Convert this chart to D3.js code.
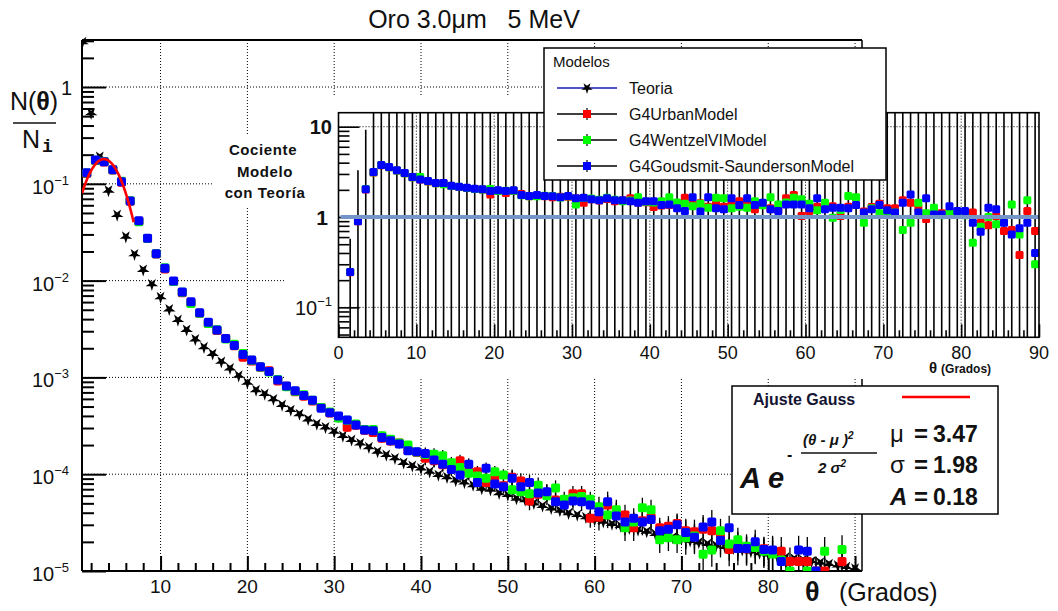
<!DOCTYPE html>
<html><head><meta charset="utf-8">
<script src="https://cdn.jsdelivr.net/npm/d3@7"></script>
<style>
body{margin:0;background:#fff}
svg{display:block;font-family:"Liberation Sans",Arial,Helvetica,sans-serif}
text{white-space:pre}
</style></head><body>
<svg id="c" width="1058" height="611"></svg>
<script>
// ---- angular distribution N(theta)/N_i, gold foil 3.0 um, 5 MeV electrons ----
const thetaTheory = d3.range(1, 91);          // theory evaluated at integer angles
const thetaBins   = d3.range(1.5, 90, 1);      // simulated histogram bin centres

const teoria = [2.9,0.535,0.19,0.085,0.0476,0.0284,0.0187,0.0129,0.00916,0.00673,
 0.00505,0.00392,0.0031,0.00247,0.00205,0.00175,0.00145,0.00124,0.00104,0.00088,
 0.00074,0.000674,0.000594,0.000519,0.00046,0.000418,0.000369,0.00033,0.000305,0.000275,
 0.000248,0.000226,0.000208,0.00019,0.000171,0.000158,0.000146,0.000131,0.000122,0.000115,
 0.000106,0.000098,0.000093,0.000086,0.000082,0.000077,0.000071,0.000069,0.0000635,0.000061,
 0.000056,0.000054,0.00005,0.000047,0.0000444,0.000042,0.0000395,0.0000379,0.0000359,0.0000337,
 0.0000323,0.0000306,0.0000292,0.0000276,0.0000265,0.0000255,0.0000241,0.0000232,0.0000222,0.0000214,
 0.0000205,0.0000197,0.000019,0.0000183,0.0000177,0.0000171,0.0000165,0.0000159,0.0000153,0.0000148,
 0.0000143,0.0000138,0.0000134,0.000013,0.0000126,0.0000122,0.0000118,0.0000114,0.000011,0.0000106];

const urban = [0.128,0.174,0.168,0.139,0.104,0.066,0.041,0.0272,0.0188,0.0132,
 0.0098,0.0075,0.0059,0.0046,0.0036,0.00305,0.00252,0.00212,0.00162,0.00148,
 0.00127,0.00117,0.00092,0.00081,0.00071,0.00064,0.00057,0.00049,0.00043,0.00039,
 0.000306,0.00032,0.000285,0.00027,0.000235,0.00022,0.00021,0.000178,0.000168,0.000146,
 0.000138,0.000125,0.000115,0.000138,0.000105,0.000106,0.000082,0.000089,0.000076,0.000093,
 0.000085,0.000053,0.000062,0.000064,0.000054,0.00005,0.000063,0.000063,0.000035,0.000036,
 0.000048,0.00004,0.000038,0.000028,0.000033,0.000036,0.000028,0.000029,0.000031,0.000026,
 0.0000255,0.000027,0.000026,0.000022,0.0000167,0.000019,0.000017,0.000018,0.000017,0.000016,
 0.000016,0.0000125,0.0000125,0.0000125,0.00001,0.00001,null,0.0000125,null];

const wentzel = [0.129,0.175,0.17,0.14,0.106,0.067,0.0405,0.0273,0.0189,0.0136,
 0.0098,0.0076,0.0058,0.0046,0.0036,0.0031,0.0025,0.0022,0.00177,0.0015,
 0.00128,0.00114,0.00095,0.0008,0.00072,0.00066,0.00058,0.00049,0.00044,0.00038,
 0.00036,0.00033,0.00029,0.00029,0.00025,0.00023,0.00021,0.0002,0.00017,0.00016,
 0.000161,0.000155,0.000131,0.000117,0.000102,0.000096,0.000091,0.000106,0.000098,0.000069,
 0.000066,0.000063,0.000077,0.00006,0.000072,0.000055,0.000057,0.000059,0.000055,0.000046,
 0.000038,0.000043,0.000028,0.000032,0.000045,0.000043,0.000021,0.000022,0.000021,0.000022,
 0.000023,0.0000149,0.0000165,0.000026,0.000019,0.000021,0.000018,0.0000175,0.000016,0.000015,
 0.000013,0.00001,null,0.00001,null,0.000016,null,0.0000167,null];

const goudsmit = [0.13,0.176,0.169,0.14,0.105,0.0664,0.0416,0.0274,0.019,0.0134,
 0.0099,0.00763,0.00605,0.00466,0.00371,0.00309,0.00253,0.00214,0.00172,0.00151,
 0.00129,0.00115,0.00094,0.000815,0.00073,0.00065,0.00058,0.00048,0.000432,0.000399,
 0.000363,0.000322,0.000286,0.000281,0.00024,0.000222,0.000205,0.000175,0.000171,0.000164,
 0.00014,0.000127,0.000112,0.000098,0.000127,0.000082,0.000115,0.000079,0.000074,0.000091,
 0.000074,0.000082,0.000064,0.000066,0.000052,0.000048,0.000053,0.000052,0.000048,0.000041,
 0.000052,0.000037,0.000032,0.000035,0.000032,0.000034,0.000026,0.000027,0.00003,0.000025,
 0.0000223,0.0000285,0.000032,0.0000206,0.000028,0.0000171,0.0000171,0.00002,0.0000167,0.0000165,
 0.0000125,null,0.0000165,0.000016,0.00001,null,null,null,null];

// relative statistical error of the simulated histograms, per 10-degree band
const relErrBand = [0.01,0.03,0.06,0.1,0.15,0.2,0.27,0.33,0.4];

// ratio model / theory (inset)
const ratioUrban = [0.245,0.9,2.02,3.12,3.75,3.55,3.27,3.05,2.75,2.6,
 2.48,2.36,2.36,2.2,2.15,2.1,2.05,2.02,1.78,1.96,
 1.85,1.96,1.8,1.7,1.72,1.7,1.66,1.68,1.68,1.6,
 1.44,1.57,1.52,1.58,1.5,1.52,1.61,1.45,1.46,1.29,
 1.34,1.36,1.32,1.64,1.36,1.42,1.3,1.4,1.3,1.44,
 1.5,1.45,1.22,1.4,1.25,1.2,1.61,1.75,1.03,1.17,
 1.3,1.32,1.32,1.03,1.3,1.64,1.15,1.29,1.4,1.25,
 1.25,1.53,1.44,1.25,0.95,1.15,1.1,1.12,1.12,1.1,
 1.12,0.865,0.81,1.03,0.7,0.72,0.38,1.17,0.7];
const ratioWentzel = [0.247,0.91,2.04,3.13,3.76,3.56,3.28,3.06,2.76,2.77,
 2.49,2.37,2.3,2.21,2.16,2.1,2.05,2.02,2.05,1.94,
 1.96,1.95,1.74,1.7,1.7,1.72,1.71,1.65,1.7,1.38,
 1.62,1.6,1.55,1.64,1.55,1.5,1.52,1.66,1.48,1.45,
 1.5,1.66,1.45,1.4,1.32,1.4,1.27,1.64,1.61,1.25,
 1.3,1.27,1.5,1.35,1.66,1.38,1.45,1.64,1.57,1.4,
 1.19,1.44,0.98,1.2,1.71,1.66,0.865,1.25,1.1,1.15,
 1.12,0.72,0.865,1.44,1.1,1.27,1.05,1.12,1.1,1.05,
 0.52,0.78,1.0,0.83,0.9,1.38,0.64,1.53,0.3];
const ratioGoudsmit = [0.246,0.9,2.03,3.15,3.77,3.58,3.29,3.07,2.77,2.61,
 2.5,2.38,2.38,2.22,2.17,2.11,2.06,2.03,1.94,1.98,
 1.94,1.98,1.75,1.71,1.75,1.71,1.7,1.66,1.71,1.61,
 1.64,1.57,1.53,1.61,1.53,1.53,1.5,1.44,1.5,1.5,
 1.36,1.38,1.25,1.17,1.66,1.15,1.66,1.25,1.22,1.61,
 1.36,1.61,1.36,1.44,1.22,1.17,1.38,1.38,1.38,1.25,
 1.61,1.22,1.27,1.27,1.25,1.36,1.12,1.22,1.36,1.19,
 1.12,1.44,1.78,1.12,1.61,1.07,1.07,1.32,1.17,1.17,
 0.865,0.687,1.27,1.22,0.865,0.64,0.75,0.865,0.4];
// error on the ratio: first bins given, the rest exceed the displayed range
const ratioErrLow = [0.33, 2.4, 7.2];
const ratioErrRest = 60;

// Gaussian fit of the forward peak
const fitMu = 3.47, fitSigma = 1.98, fitA = 0.18;
const fitRange = [0.95, 6.9];

const seriesNames = ["Teoria","G4UrbanModel","G4WentzelVIModel","G4Goudsmit-SaundersonModel"];
const seriesColors = ["#000000","#ff0000","#00ff00","#0000ff"];

const svg = d3.select("#c");

// ---------- main frame ----------
const M = {l:82, r:862, t:40, b:571};
const x = d3.scaleLinear().domain([0.95, 90.8]).range([M.l, M.r]);
const y = d3.scaleLog().domain([1e-5, 3.06]).range([M.b, M.t]);

const decades = [1e-5,1e-4,1e-3,1e-2,1e-1,1];
const minorY = [];
decades.forEach(d => { for (let m=2;m<=9;m++){ const v=m*d; if (v<3.06) minorY.push(v);} });
const majorX = [10,20,30,40,50,60,70,80,90];
const minorX = d3.range(2, 91, 2).filter(v => v%10 !== 0);

const gMain = svg.append("g");
// dotted grid
gMain.append("g").selectAll("line").data(decades.slice(1)).join("line")
  .attr("x1", M.l).attr("x2", M.r).attr("y1", d=>y(d)).attr("y2", d=>y(d))
  .attr("stroke","#000").attr("stroke-width",1).attr("stroke-dasharray","1,2");
gMain.append("g").selectAll("line").data(majorX).join("line")
  .attr("x1", d=>x(d)).attr("x2", d=>x(d)).attr("y1", M.t).attr("y2", M.b)
  .attr("stroke","#000").attr("stroke-width",1).attr("stroke-dasharray","1,2");

// axes (ticks inside the frame)
const axY1 = gMain.append("g").attr("transform",`translate(${M.l},0)`)
  .call(d3.axisLeft(y).tickValues(decades).tickSize(-24).tickFormat(""));
const axY2 = gMain.append("g").attr("transform",`translate(${M.l},0)`)
  .call(d3.axisLeft(y).tickValues(minorY).tickSize(-12).tickFormat(""));
const axX1 = gMain.append("g").attr("transform",`translate(0,${M.b})`)
  .call(d3.axisBottom(x).tickValues(majorX).tickSize(-15).tickFormat(""));
const axX2 = gMain.append("g").attr("transform",`translate(0,${M.b})`)
  .call(d3.axisBottom(x).tickValues(minorX).tickSize(-8).tickFormat(""));
[axY1,axY2,axX1,axX2].forEach(a => { a.select(".domain").remove(); a.selectAll("line").attr("stroke","#000").attr("stroke-width",2); });

// frame
gMain.append("line").attr("x1",M.l).attr("x2",M.l).attr("y1",M.t).attr("y2",M.b).attr("stroke","#000").attr("stroke-width",2);
gMain.append("line").attr("x1",M.l).attr("x2",M.r).attr("y1",M.b).attr("y2",M.b).attr("stroke","#000").attr("stroke-width",2);
gMain.append("line").attr("x1",M.l).attr("x2",M.r).attr("y1",M.t).attr("y2",M.t).attr("stroke","#000").attr("stroke-width",2);
gMain.append("line").attr("x1",M.r).attr("x2",M.r).attr("y1",M.t).attr("y2",M.b).attr("stroke","#000").attr("stroke-width",1.5);

// tick labels
gMain.append("g").selectAll("text").data([10,20,30,40,50,60,70,80]).join("text")
  .attr("x", d=>x(d)).attr("y", 593).attr("text-anchor","middle")
  .attr("font-size",19).attr("fill","#111").text(d=>d);
function powLabel(g, xr, yb, exp, size, supSize, bold){
  const t = g.append("text").attr("x", xr).attr("y", yb).attr("text-anchor","end")
    .attr("font-size", size).attr("fill","#111").attr("font-weight", bold?"bold":"normal");
  if (exp === 0) { t.text("1"); return; }
  if (exp === 1) { t.text("10"); return; }
  t.append("tspan").text("10");
  t.append("tspan").attr("font-size", supSize).attr("dy", -size*0.45).text("\u2212" + Math.abs(exp));
}
[-5,-4,-3,-2,-1,0].forEach(e => powLabel(gMain, e===0?72:69, y(Math.pow(10,e))+ (e===0?8:10), e, 20, 13, false));

// axis titles
svg.append("text").attr("x",474).attr("y",28).attr("text-anchor","middle")
  .attr("font-size",25).attr("fill","#111").text("Oro 3.0\u03bcm   5 MeV");
svg.append("text").attr("x",34).attr("y",110).attr("text-anchor","middle").attr("font-size",25).attr("fill","#111")
  .call(t=>{ t.append("tspan").text("N("); t.append("tspan").attr("font-weight","bold").text("\u03b8"); t.append("tspan").text(")"); });
svg.append("line").attr("x1",13).attr("x2",56).attr("y1",123).attr("y2",123).attr("stroke","#111").attr("stroke-width",1.5);
svg.append("text").attr("x",22).attr("y",148).attr("font-size",25).attr("fill","#111").text("N");
svg.append("text").attr("x",42).attr("y",152).attr("font-size",18).attr("font-weight","bold")
  .attr("font-family",'"Liberation Mono","DejaVu Sans Mono",monospace').attr("fill","#111").text("i");
svg.append("text").attr("x",805).attr("y",601).attr("font-size",27).attr("font-weight","bold").attr("fill","#111").text("\u03b8");
svg.append("text").attr("x",839).attr("y",601).attr("font-size",25).attr("fill","#111").text("(Grados)");

// ---------- data in the main frame ----------
svg.append("clipPath").attr("id","clipMain").append("rect")
  .attr("x",M.l).attr("y",M.t-6).attr("width",M.r-M.l+6).attr("height",M.b-M.t+6);
const gData = svg.append("g").attr("clip-path","url(#clipMain)");

const models = [urban, wentzel, goudsmit];
const rows = [];
models.forEach((arr, k) => arr.forEach((v, i) => { if (v != null) rows.push({k, t: thetaBins[i], v}); }));
const relErr = t => relErrBand[Math.min(8, Math.floor(t/10))];

// error bars
gData.append("g").selectAll("line").data(rows).join("line")
  .attr("x1", d=>x(d.t)).attr("x2", d=>x(d.t))
  .attr("y1", d=>y(d.v*(1+relErr(d.t)))).attr("y2", d=>y(Math.max(1.001e-5, d.v*(1-relErr(d.t)))))
  .attr("stroke","#000").attr("stroke-width",1.3);

// theory stars
gData.append("g").selectAll("path").data(teoria.map((v,i)=>({t:thetaTheory[i], v}))).join("path")
  .attr("d", d3.symbol(d3.symbolStar, 50))
  .attr("transform", d=>`translate(${x(d.t)},${y(d.v)}) rotate(180)`)
  .attr("fill","#000");

// model markers (Urban, Wentzel, Goudsmit-Saunderson on top)
[0,1,2].forEach(k => {
  gData.append("g").selectAll("rect").data(rows.filter(r=>r.k===k)).join("rect")
    .attr("x", d=>x(d.t)-4.5).attr("y", d=>y(d.v)-4.5).attr("width",9).attr("height",9).attr("rx",1.8)
    .attr("fill", seriesColors[k+1]);
});

// gaussian fit
const fitPts = d3.range(fitRange[0], fitRange[1]+0.001, 0.05).map(t => [t, fitA*Math.exp(-((t-fitMu)**2)/(2*fitSigma*fitSigma))]);
gData.append("path").datum(fitPts)
  .attr("d", d3.line().x(d=>x(d[0])).y(d=>y(d[1])))
  .attr("fill","none").attr("stroke","#ff0000").attr("stroke-width",2.6);

// ---------- inset: ratio model / theory ----------
svg.append("rect").attr("x",286).attr("y",96).attr("width",772).attr("height",283).attr("fill","#fff");
svg.append("rect").attr("x",214).attr("y",136).attr("width",106).attr("height",70).attr("fill","#fff");
const cocText = svg.append("g").attr("font-weight","bold").attr("font-size",15).attr("fill","#111")
  .attr("text-anchor","middle").attr("letter-spacing",0.6);
cocText.append("text").attr("x",263).attr("y",155).text("Cociente");
cocText.append("text").attr("x",265).attr("y",177).text("Modelo");
cocText.append("text").attr("x",265).attr("y",198).text("con Teoría");

const I = {l:338.5, r:1039, t:112.7, b:337.3};
const xi = d3.scaleLinear().domain([0, 90]).range([I.l, I.r]);
const yi = d3.scaleLog().domain([0.0466, 14.3]).range([I.b, I.t]);
const gIn = svg.append("g");
svg.append("clipPath").attr("id","clipIn").append("rect")
  .attr("x",I.l).attr("y",I.t).attr("width",I.r-I.l).attr("height",I.b-I.t);

gIn.append("g").selectAll("line").data([0.1,1,10]).join("line")
  .attr("x1",I.l).attr("x2",I.r).attr("y1",d=>yi(d)).attr("y2",d=>yi(d))
  .attr("stroke","#000").attr("stroke-dasharray","1,2");
gIn.append("g").selectAll("line").data([10,20,30,40,50,60,70,80]).join("line")
  .attr("x1",d=>xi(d)).attr("x2",d=>xi(d)).attr("y1",I.t).attr("y2",I.b)
  .attr("stroke","#000").attr("stroke-dasharray","1,2");

const minorYi = [];
[0.01,0.1,1,10].forEach(d => { for (let m=2;m<=9;m++){ const v=m*d; if (v>0.0466 && v<14.3) minorYi.push(v);} });
const ai1 = gIn.append("g").attr("transform",`translate(${I.l},0)`).call(d3.axisLeft(yi).tickValues([0.1,1,10]).tickSize(-21).tickFormat(""));
const ai2 = gIn.append("g").attr("transform",`translate(${I.l},0)`).call(d3.axisLeft(yi).tickValues(minorYi).tickSize(-11).tickFormat(""));
const ai3 = gIn.append("g").attr("transform",`translate(0,${I.b})`).call(d3.axisBottom(xi).tickValues(d3.range(0,91,10)).tickSize(-13).tickFormat(""));
const ai4 = gIn.append("g").attr("transform",`translate(0,${I.b})`).call(d3.axisBottom(xi).tickValues(d3.range(2,90,2).filter(v=>v%10)).tickSize(-7).tickFormat(""));
[ai1,ai2,ai3,ai4].forEach(a => { a.select(".domain").remove(); a.selectAll("line").attr("stroke","#000").attr("stroke-width",1.6); });

// ratio error bars
const gInData = gIn.append("g").attr("clip-path","url(#clipIn)");
gInData.append("g").selectAll("line").data(ratioGoudsmit.map((v,i)=>({t:thetaBins[i], v, e: i<ratioErrLow.length ? ratioErrLow[i] : ratioErrRest}))).join("line")
  .attr("x1",d=>xi(d.t)).attr("x2",d=>xi(d.t))
  .attr("y1",d=>yi(d.v+d.e)).attr("y2", I.b+2)
  .attr("stroke","#000").attr("stroke-width",1.6);

// reference line at ratio = 1
gIn.append("line").attr("x1",I.l+2).attr("x2",I.r).attr("y1",yi(1)).attr("y2",yi(1))
  .attr("stroke","#7396c6").attr("stroke-width",4);

[ratioUrban, ratioWentzel, ratioGoudsmit].forEach((arr,k) => {
  gInData.append("g").selectAll("rect").data(arr.map((v,i)=>({t:thetaBins[i], v}))).join("rect")
    .attr("x",d=>xi(d.t)-4).attr("y",d=>yi(d.v)-4).attr("width",8).attr("height",8).attr("rx",1.5)
    .attr("fill", seriesColors[k+1]);
});

// inset frame
gIn.append("rect").attr("x",I.l).attr("y",I.t).attr("width",I.r-I.l).attr("height",I.b-I.t)
  .attr("fill","none").attr("stroke","#000").attr("stroke-width",1.6);

// inset labels
gIn.append("g").selectAll("text").data(d3.range(0,91,10)).join("text")
  .attr("x",d=>xi(d)).attr("y",359).attr("text-anchor","middle").attr("font-size",18).attr("fill","#111").text(d=>d);
powLabel(gIn, 332, yi(10)+7, 1, 20, 13, true);
powLabel(gIn, 328, yi(1)+8, 0, 21, 13, true);
powLabel(gIn, 332, yi(0.1)+8, -1, 20, 13, false);
gIn.append("text").attr("x",929).attr("y",373).attr("fill","#111")
  .call(t=>{ t.append("tspan").attr("font-size",15).attr("font-weight","bold").text("\u03b8");
             t.append("tspan").attr("font-size",12).attr("font-weight","bold").attr("dx",4).text("(Grados)"); });

// ---------- legend ----------
const L = svg.append("g");
L.append("rect").attr("x",544).attr("y",48).attr("width",342).attr("height",132)
  .attr("fill","#fff").attr("stroke","#000").attr("stroke-width",1.5);
L.append("text").attr("x",553).attr("y",67).attr("font-size",15).attr("fill","#111").text("Modelos");
seriesNames.forEach((name,i) => {
  const cy = 88 + i*26;
  L.append("line").attr("x1",557).attr("x2",617).attr("y1",cy).attr("y2",cy)
    .attr("stroke", i===0 ? "#1a1ab0" : "#000").attr("stroke-width",1.3);
  if (i===0) {
    L.append("path").attr("d", d3.symbol(d3.symbolStar, 40)).attr("transform",`translate(587,${cy}) rotate(180)`).attr("fill","#000");
  } else {
    L.append("line").attr("x1",587).attr("x2",587).attr("y1",cy-6).attr("y2",cy+6).attr("stroke","#000").attr("stroke-width",1.2);
    L.append("rect").attr("x",583).attr("y",cy-4).attr("width",8).attr("height",8).attr("fill",seriesColors[i]);
  }
  L.append("text").attr("x",629).attr("y",cy+6).attr("font-size",16).attr("fill","#111").text(name);
});

// ---------- fit box ----------
const G = svg.append("g");
G.append("rect").attr("x",732).attr("y",386).attr("width",266).attr("height",128)
  .attr("fill","#fff").attr("stroke","#000").attr("stroke-width",1.5);
G.append("text").attr("x",753).attr("y",405).attr("font-size",16).attr("font-weight","bold").attr("fill","#141432").text("Ajuste Gauss");
G.append("line").attr("x1",902).attr("x2",970).attr("y1",397).attr("y2",397).attr("stroke","#ff0000").attr("stroke-width",2.6);
G.append("text").attr("x",740).attr("y",488).attr("font-size",29).attr("font-weight","bold").attr("font-style","italic").attr("fill","#111").text("A e");
G.append("text").attr("x",787).attr("y",460).attr("font-size",16).attr("font-weight","bold").attr("fill","#111").text("-");
G.append("text").attr("x",803).attr("y",445).attr("font-size",15).attr("font-weight","bold").attr("font-style","italic").attr("fill","#111")
  .call(t=>{ t.append("tspan").text("(\u03b8 - \u03bc )"); t.append("tspan").attr("font-size",10).attr("dy",-6).text("2"); });
G.append("line").attr("x1",801).attr("x2",877).attr("y1",453).attr("y2",453).attr("stroke","#111").attr("stroke-width",1.5);
G.append("text").attr("x",818).attr("y",473).attr("font-size",15).attr("font-weight","bold").attr("font-style","italic").attr("fill","#111")
  .call(t=>{ t.append("tspan").text("2 \u03c3"); t.append("tspan").attr("font-size",10).attr("dy",-6).text("2"); });
const params = [["\u03bc", fitMu.toFixed(2), 442], ["\u03c3", fitSigma.toFixed(2), 473], ["A", fitA.toFixed(2), 505]];
params.forEach(([sym,val,yb]) => {
  G.append("text").attr("x",890).attr("y",yb).attr("font-size",24).attr("fill","#111")
    .attr("font-style", sym==="A" ? "italic" : "normal").attr("font-weight", sym==="A" ? "bold" : "normal").text(sym);
  G.append("text").attr("x",914).attr("y",yb).attr("font-size",24).attr("font-weight","bold").attr("fill","#111").text("=");
  G.append("text").attr("x",933).attr("y",yb).attr("font-size",23).attr("font-weight","bold").attr("fill","#111").text(val);
});
</script>
</body></html>
